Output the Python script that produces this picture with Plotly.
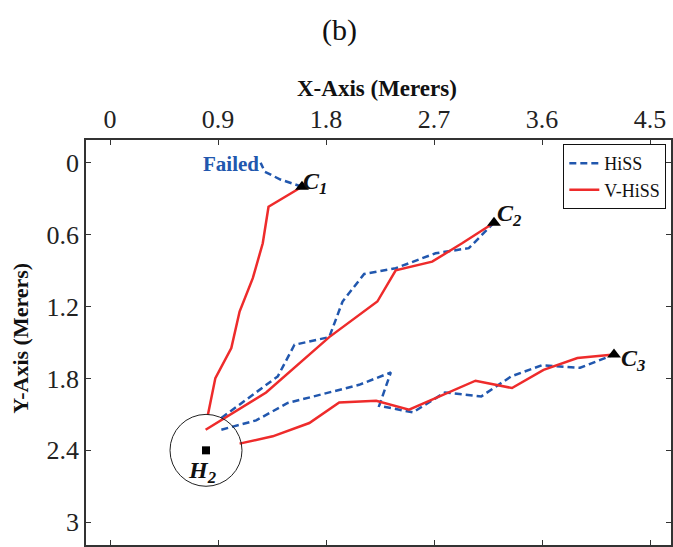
import plotly.graph_objects as go

# ---- data (meters) ----
home_h2 = (0.8, 2.4)
goal_c1 = (1.6, 0.2)
goal_c2 = (3.2, 0.5)
goal_c3 = (4.2, 1.6)

# V-HiSS (red, solid)
vhiss_c1_x = [0.816, 0.878, 1.011, 1.080, 1.190, 1.273, 1.321, 1.6]
vhiss_c1_y = [2.103, 1.797, 1.547, 1.242, 0.963, 0.672, 0.367, 0.2]
vhiss_c2_x = [0.797, 1.301, 1.827, 2.228, 2.381, 2.685, 2.934, 3.2]
vhiss_c2_y = [2.228, 1.917, 1.455, 1.158, 0.898, 0.825, 0.672, 0.5]
vhiss_c3_x = [1.080, 1.356, 1.661, 1.910, 2.218, 2.492, 3.046, 3.350, 3.613, 3.895, 4.2]
vhiss_c3_y = [2.344, 2.283, 2.172, 2.000, 1.986, 2.061, 1.819, 1.880, 1.728, 1.630, 1.6]

# HiSS (blue, dashed)
hiss_c1_x = [1.6, 1.42, 1.29, 1.255]
hiss_c1_y = [0.2, 0.14, 0.075, 0.0]
hiss_c2_x = [0.928, 1.398, 1.537, 1.827, 1.938, 2.118, 2.381, 2.713, 2.990, 3.2]
hiss_c2_y = [2.130, 1.783, 1.519, 1.455, 1.158, 0.928, 0.880, 0.755, 0.713, 0.5]
hiss_c3_x = [0.928, 1.218, 1.481, 2.076, 2.340, 2.243, 2.525, 2.791, 3.094, 3.343, 3.599, 3.918, 4.2]
hiss_c3_y = [2.228, 2.150, 2.005, 1.853, 1.750, 2.028, 2.083, 1.917, 1.950, 1.783, 1.690, 1.711, 1.6]

x_ticks = [0, 0.9, 1.8, 2.7, 3.6, 4.5]
x_tick_labels = ["0", "0.9", "1.8", "2.7", "3.6", "4.5"]
y_ticks = [0, 0.6, 1.2, 1.8, 2.4, 3.0]
y_tick_labels = ["0", "0.6", "1.2", "1.8", "2.4", "3"]

BLUE = "#2157AE"
RED = "#EE2B2B"
FONT = "Liberation Serif"

fig = go.Figure()

hiss_paths = [(hiss_c1_x, hiss_c1_y), (hiss_c2_x, hiss_c2_y), (hiss_c3_x, hiss_c3_y)]
vhiss_paths = [(vhiss_c1_x, vhiss_c1_y), (vhiss_c2_x, vhiss_c2_y), (vhiss_c3_x, vhiss_c3_y)]

for i, (xs, ys) in enumerate(hiss_paths):
    fig.add_trace(go.Scatter(x=xs, y=ys, mode="lines", name="HiSS", legendgroup="hiss",
                             showlegend=(i == 0),
                             line=dict(color=BLUE, width=2.5, dash="7px,4px")))
for i, (xs, ys) in enumerate(vhiss_paths):
    fig.add_trace(go.Scatter(x=xs, y=ys, mode="lines", name="V-HiSS", legendgroup="vhiss",
                             showlegend=(i == 0),
                             line=dict(color=RED, width=2.5)))

# goals (triangles) and home (square)
fig.add_trace(go.Scatter(x=[goal_c1[0], goal_c2[0], goal_c3[0]],
                         y=[goal_c1[1], goal_c2[1], goal_c3[1]],
                         mode="markers", showlegend=False,
                         marker=dict(symbol="triangle-up", size=12, color="black")))
fig.add_trace(go.Scatter(x=[home_h2[0]], y=[home_h2[1]], mode="markers", showlegend=False,
                         marker=dict(symbol="square", size=8, color="black")))

# circle around home
fig.add_shape(type="circle", xref="x", yref="y",
              x0=home_h2[0] - 0.3, x1=home_h2[0] + 0.3,
              y0=home_h2[1] - 0.3, y1=home_h2[1] + 0.3,
              line=dict(color="#222", width=1))

lab_font = dict(family=FONT, size=24, color="#111")
def lab(main, sub, x, y):
    txt = "<b><i>%s</i></b><sub><b><i>%s</i></b></sub>" % (main, sub)
    fig.add_annotation(x=x, y=y, xref="x", yref="y", text=txt, showarrow=False,
                       xanchor="left", yanchor="middle", font=lab_font)

lab("C", "1", 1.595, 0.17)
lab("C", "2", 3.21, 0.44)
lab("C", "3", 4.245, 1.65)
lab("H", "2", 0.635, 2.58)

fig.add_annotation(x=1.005, y=0.01, xref="x", yref="y", text="<b>Failed</b>", showarrow=False,
                   xanchor="center", yanchor="middle",
                   font=dict(family=FONT, size=21, color=BLUE))

# titles
fig.add_annotation(x=0.4327, y=1.271, xref="paper", yref="paper", text="(b)", showarrow=False,
                   xanchor="center", yanchor="middle", font=dict(family=FONT, size=30, color="#111"))
fig.add_annotation(x=0.497, y=1.128, xref="paper", yref="paper", text="<b>X-Axis (Merers)</b>",
                   showarrow=False, xanchor="center", yanchor="middle",
                   font=dict(family=FONT, size=23, color="#111"))
fig.add_annotation(x=-0.1124, y=0.51, xref="paper", yref="paper", text="<b>Y-Axis (Merers)</b>",
                   showarrow=False, xanchor="center", yanchor="middle", textangle=-90,
                   font=dict(family=FONT, size=22, color="#111"))

axis_common = dict(showgrid=False, zeroline=False, showline=True, linecolor="#333", linewidth=1.5,
                   ticks="inside", ticklen=5, tickcolor="#333", mirror="ticks",
                   tickfont=dict(family=FONT, size=26, color="#222"))

fig.update_xaxes(range=[-0.2, 4.675], side="top", tickvals=x_ticks, ticktext=x_tick_labels,
                 **axis_common)
fig.update_yaxes(range=[3.19, -0.19], tickvals=y_ticks, ticktext=y_tick_labels, **axis_common)

fig.update_layout(
    width=673, height=547,
    margin=dict(l=86, r=0, t=140, b=1),
    paper_bgcolor="white", plot_bgcolor="white",
    legend=dict(x=0.992, y=0.99, xanchor="right", yanchor="top",
                bgcolor="white", bordercolor="#111", borderwidth=1,
                font=dict(family=FONT, size=18, color="#111"),
                itemwidth=30, tracegroupgap=0),
)

fig.write_html("out.html")
